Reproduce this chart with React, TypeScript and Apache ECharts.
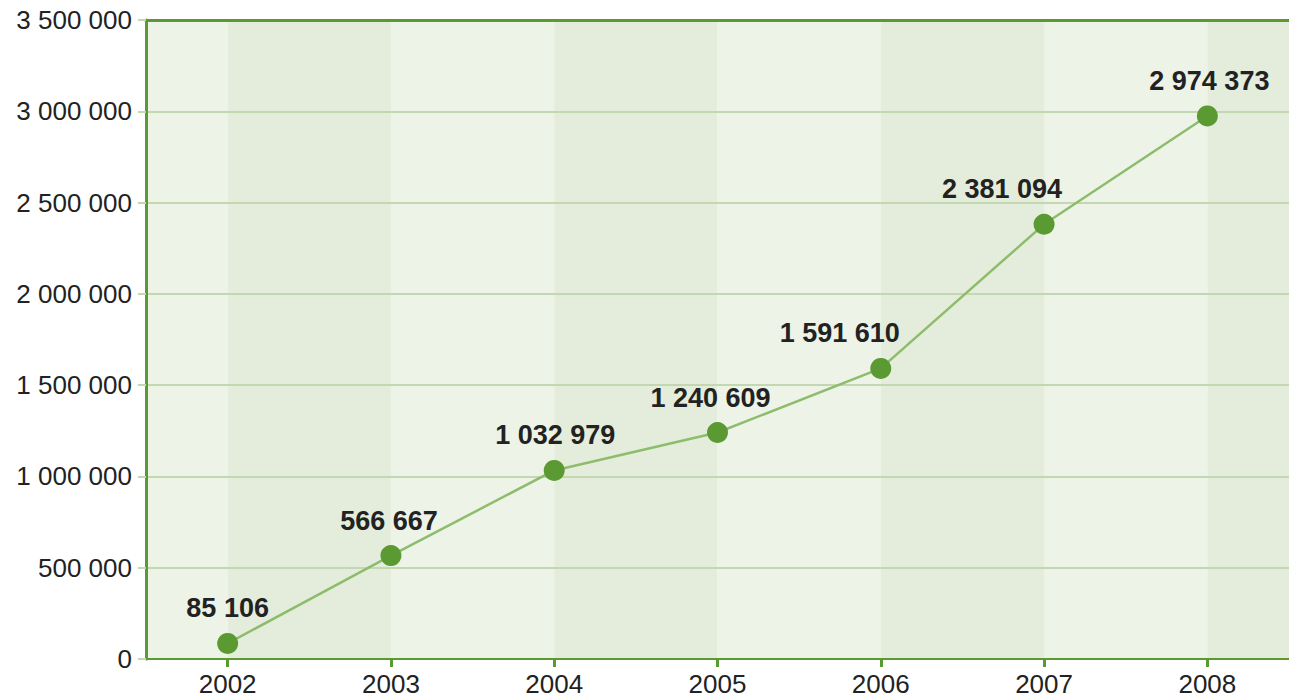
import React, { useEffect, useRef } from "react";
import * as echarts from "echarts";

const categories = ["2002", "2003", "2004", "2005", "2006", "2007", "2008"];
const values = [85106, 566667, 1032979, 1240609, 1591610, 2381094, 2974373];
const labelShiftX = [0, -2, 1, -7, -41, -42, 2];
const yTicks = { min: 0, max: 3500000, interval: 500000 };
// background stripes in category-index units (band edges at -0.5 and 6.5)
const lightStripes = [[-0.5, 0], [1, 2], [3, 4], [5, 6]];
const darkStripes = [[0, 1], [2, 3], [4, 5], [6, 6.5]];

const fmt = (v: number) => String(Math.round(v)).replace(/\B(?=(\d{3})+(?!\d))/g, " ");

const DARK = "#5b9a32";
const GRIDC = "#c3d8b1";
const LIGHT_BG = "#edf3e7";
const DARK_BG = "#e4eddb";
const FONT = "'Liberation Sans', Arial, sans-serif";

export default function App() {
  const ref = useRef<HTMLDivElement>(null);
  useEffect(() => {
    if (!ref.current) return;
    const chart = echarts.init(ref.current, null, { renderer: "svg" });
    const stripeData = [
      ...lightStripes.map((s) => [
        { xAxis: s[0], itemStyle: { color: LIGHT_BG } },
        { xAxis: s[1] },
      ]),
      ...darkStripes.map((s) => [
        { xAxis: s[0], itemStyle: { color: DARK_BG } },
        { xAxis: s[1] },
      ]),
    ];
    chart.setOption({
      animation: false,
      grid: { left: 146, right: 0, top: 20, bottom: 39 },
      xAxis: [
        {
          type: "category",
          data: categories,
          boundaryGap: true,
          z: 1,
          axisLine: { show: true, onZero: false, lineStyle: { color: DARK, width: 2 } },
          axisTick: { show: true, alignWithLabel: true, length: 8, lineStyle: { color: DARK, width: 3 } },
          axisLabel: { color: "#222", fontSize: 26, fontFamily: FONT, margin: 12 },
          splitLine: { show: false },
          splitArea: { show: false },
        },
        {
          type: "category",
          data: categories,
          position: "top",
          z: 1,
          axisLine: { show: true, onZero: false, lineStyle: { color: DARK, width: 3 } },
          axisTick: { show: false },
          axisLabel: { show: false },
          splitLine: { show: false },
        },
        {
          type: "value",
          min: -0.5,
          max: 6.5,
          show: false,
        },
      ],
      yAxis: {
        type: "value",
        min: yTicks.min,
        max: yTicks.max,
        interval: yTicks.interval,
        z: 1,
        axisLine: { show: true, onZero: false, lineStyle: { color: DARK, width: 3 } },
        axisTick: { show: true, length: 8, lineStyle: { color: GRIDC, width: 2 } },
        axisLabel: { color: "#222", fontSize: 26, fontFamily: FONT, margin: 14, formatter: (v: number) => fmt(v) },
        splitLine: { show: true, lineStyle: { color: GRIDC, width: 2 } },
      },
      series: [
        {
          type: "line",
          xAxisIndex: 2,
          data: [],
          silent: true,
          z: 0,
          markArea: { silent: true, z: 0, data: stripeData },
        },
        {
          type: "line",
          xAxisIndex: 0,
          z: 3,
          data: values.map((v, i) => ({ value: v, label: { offset: [labelShiftX[i], 0] } })),
          symbol: "circle",
          symbolSize: 21,
          itemStyle: { color: DARK },
          lineStyle: { color: "#8dbd6c", width: 2.5 },
          label: {
            show: true,
            position: "top",
            distance: 11,
            color: "#222",
            fontSize: 27,
            fontWeight: "bold",
            fontFamily: FONT,
            formatter: (p: any) => fmt(p.value),
          },
        },
      ],
    });
    return () => chart.dispose();
  }, []);
  return <div ref={ref} style={{ width: 1289, height: 698, position: "absolute", left: 0, top: 0 }} />;
}
